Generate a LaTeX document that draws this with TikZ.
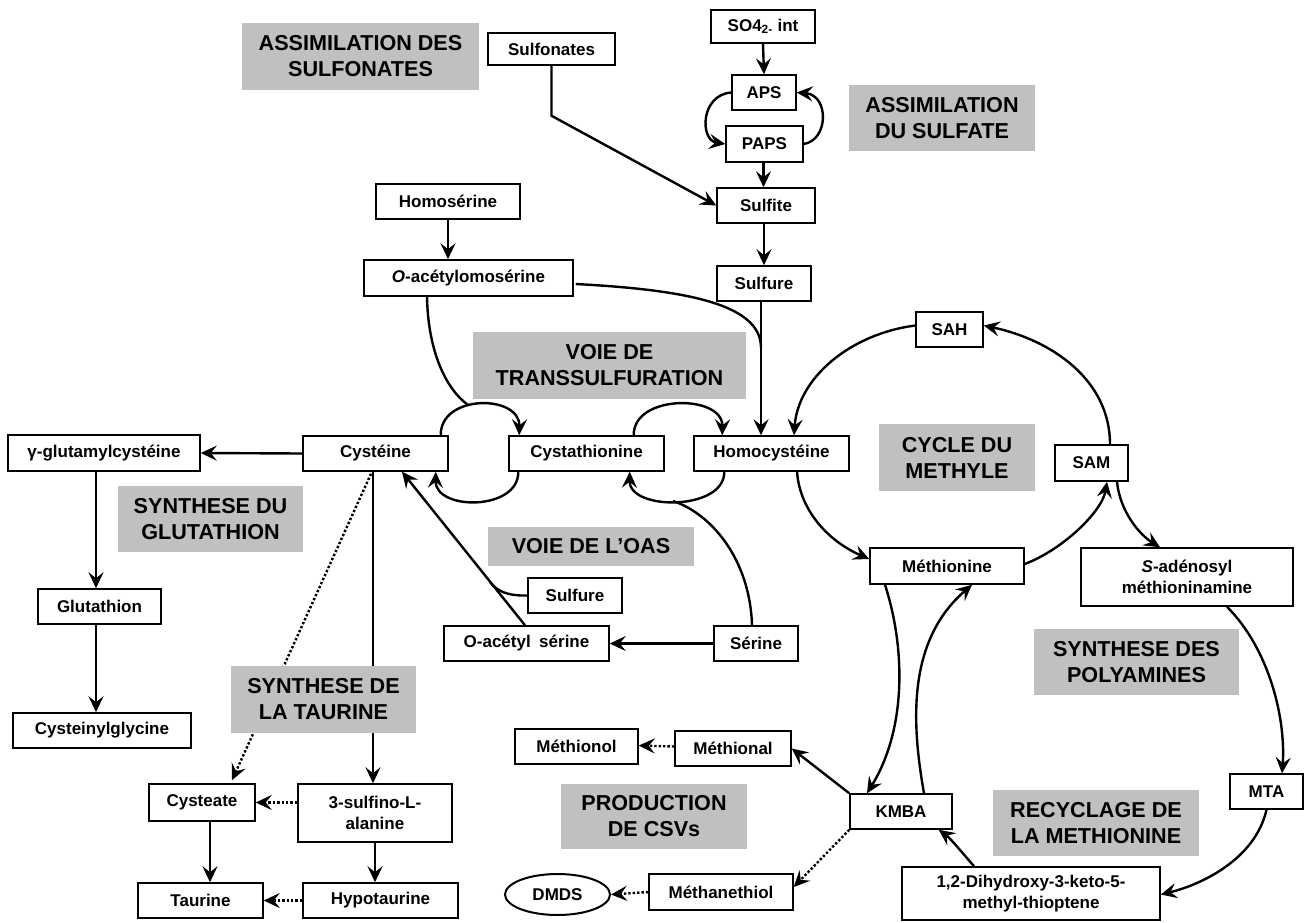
\documentclass[tikz,border=0pt]{standalone}
\usepackage{fontspec}
\setmainfont{Liberation Sans}
\usetikzlibrary{arrows.meta,calc,shapes.geometric}
\definecolor{labgray}{RGB}{192,192,192}
\newcommand{\nodefnt}{\fontsize{17}{21}\selectfont\bfseries}
\newcommand{\labfnt}{\fontsize{21.6}{26}\selectfont\bfseries}
\begin{document}
\begin{tikzpicture}[x=1pt,y=-1pt,
  box/.style={draw, line width=1.5pt, inner sep=0pt, font=\nodefnt, align=center},
  lab/.style={fill=labgray, inner sep=0pt, font=\labfnt, align=center},
  ln/.style={line width=2.4pt},
  arr/.style={line width=2.4pt, -{Stealth[length=16pt,width=15pt,inset=6pt]}},
  dotarr/.style={line width=2.4pt, dash pattern=on 2.4pt off 2pt, -{Stealth[length=16pt,width=15pt,inset=6pt,sep=0pt]}},
  dotln/.style={line width=2.4pt, dash pattern=on 2.4pt off 2pt}]
\useasboundingbox (0,0) rectangle (1310,922);

% ---------- boxes ----------
\node[box, minimum width=127, minimum height=32] (sulfonates) at (551.5,49) {Sulfonates};
\node[box, minimum width=104, minimum height=33] (so4) at (763,26.5) {SO4\textsubscript{2-} int};
\node[box, minimum width=64, minimum height=35] (aps) at (764,92.5) {APS};
\node[box, minimum width=77, minimum height=36] (paps) at (764.5,144) {PAPS};
\node[box, minimum width=98, minimum height=35] (sulfite) at (766,205.5) {Sulfite};
\node[box, minimum width=144, minimum height=35] (homoserine) at (448,201.5) {Homosérine};
\node[box, minimum width=209, minimum height=36] (oah) at (468.5,278) {\textit{O}-acétylomosérine};
\node[box, minimum width=94, minimum height=35] (sulfureA) at (764,283.5) {Sulfure};
\node[box, minimum width=145, minimum height=35] (cysteine) at (375.5,453.5) {Cystéine};
\node[box, minimum width=155, minimum height=35] (cystathionine) at (586.5,453.5) {Cystathionine};
\node[box, minimum width=155, minimum height=35] (homocysteine) at (771.5,453.5) {Homocystéine};
\node[box, minimum width=192, minimum height=36] (gglu) at (104,453) {γ-glutamylcystéine};
\node[box, minimum width=123, minimum height=35] (glutathion) at (99.5,606.5) {Glutathion};
\node[box, minimum width=178, minimum height=35] (cysgly) at (102,730.5) {Cysteinylglycine};
\node[box, minimum width=94, minimum height=35] (sulfureB) at (575,595.5) {Sulfure};
\node[box, minimum width=165, minimum height=35] (oas) at (526.5,643.5) {O-acétyl\hspace{0.5em}sérine};
\node[box, minimum width=84, minimum height=35] (serine) at (756,643.5) {Sérine};
\node[box, minimum width=67, minimum height=35] (sah) at (949.5,329.5) {SAH};
\node[box, minimum width=73, minimum height=36] (sam) at (1091.5,463) {SAM};
\node[box, minimum width=154, minimum height=36] (methionine) at (947,566) {Méthionine};
\node[box, minimum width=212, minimum height=58] (sadomet) at (1187,577) {\textit{S}-adénosyl\\méthioninamine};
\node[box, minimum width=102, minimum height=35] (kmba) at (901,811.5) {KMBA};
\node[box, minimum width=73, minimum height=35] (mta) at (1266.5,791.5) {MTA};
\node[box, minimum width=258, minimum height=53] (dihydroxy) at (1031,893.5) {1,2-Dihydroxy-3-keto-5-\\methyl-thioptene};
\node[box, minimum width=123, minimum height=35] (methionol) at (576.5,746.5) {Méthionol};
\node[box, minimum width=116, minimum height=35] (methional) at (733,748.5) {Méthional};
\node[box, ellipse, line width=2pt, minimum width=105, minimum height=41] (dmds) at (557.5,894.5) {DMDS};
\node[box, minimum width=144, minimum height=36] (methanethiol) at (721,892) {Méthanethiol};
\node[box, minimum width=106, minimum height=37] (cysteate) at (202,802.5) {Cysteate};
\node[box, minimum width=154, minimum height=58] (sulfino) at (375,813) {3-sulfino-L-\\alanine};
\node[box, minimum width=125, minimum height=35] (taurine) at (200.5,900.5) {Taurine};
\node[box, minimum width=155, minimum height=35] (hypotaurine) at (380.5,900.5) {Hypotaurine};

% ---------- connectors ----------
% sulfate assimilation
\draw[arr] (so4.south) -- (aps.north);
\draw[arr] (aps.west) .. controls (700,95) and (700,140) .. (paps.west);
\draw[arr] (paps.east) .. controls (829,140) and (829,95) .. (aps.east);
\draw[arr] ($(paps.south)+(-1,0)$) -- ($(sulfite.north)+(-2.5,0)$);
\draw[arr] (sulfonates.south) -- ++(0,50) -- (sulfite.west);
\draw[arr] ($(sulfite.south)+(-2,0)$) -- (sulfureA.north);
\draw[arr] ($(sulfureA.south)+(-3,0)$) -- ($(homocysteine.north)+(-10.5,0)$);
\draw[ln] ($(oah.east)+(2,6)$) .. controls (690,290) and (761,305) .. ($(sulfureA.south)+(-3,46)$);
% homoserine
\draw[arr] (homoserine.south) -- (homoserine.south |- oah.north);
\draw[ln] ($(oah.south)+(-41.5,0)$) .. controls (428,350) and (445,388) .. (468,405);
% transsulfuration
\draw[arr] ($(cysteine.north east)+(-8,0)$) .. controls (440,394) and (520,394) .. ($(cystathionine.north west)+(11,0)$);
\draw[arr] ($(cystathionine.south west)+(10,0)$) .. controls (519,511) and (435,511) .. ($(cysteine.south east)+(-13,0)$);
\draw[arr] ($(cystathionine.north east)+(-31,0)$) .. controls (633,394) and (723,394) .. ($(homocysteine.north west)+(29,0)$);
\draw[arr] ($(homocysteine.south west)+(31,0)$) .. controls (725,511) and (629,511) .. ($(cystathionine.south east)+(-35,0)$);
% OAS pathway
\draw[ln] ($(serine.north)+(-4,0)$) .. controls (750,560) and (712,514) .. (673,501);
\draw[arr] (serine.west) -- (oas.east);
\draw[arr] ($(oas.north)+(-1.5,0)$) -- ($(cysteine.south)+(26.5,0)$);
\draw[ln] (sulfureB.west) .. controls (507,596) and (497,591) .. (490,582);
% glutathion
\draw[arr] (cysteine.west) -- (gglu.east);
\draw[arr] ($(gglu.south)+(-8,0)$) -- ($(glutathion.north)+(-3.5,0)$);
\draw[arr] ($(glutathion.south)+(-3.5,0)$) -- ($(cysgly.north)+(-6,0)$);
% taurine
\draw[arr] ($(cysteine.south)+(-2.5,0)$) -- ($(sulfino.north)+(-2,0)$);
\draw[dotarr] ($(cysteine.south)+(-4.5,2)$) -- ($(cysteate.north)+(30,-3)$);
\draw[dotarr] (sulfino.west |- cysteate.east) -- (cysteate.east);
\draw[arr] ($(cysteate.south)+(8,0)$) -- ($(taurine.north)+(9.5,0)$);
\draw[arr] (sulfino.south) -- ($(hypotaurine.north)+(-5.5,0)$);
\draw[dotarr] (hypotaurine.west) -- (taurine.east);
% methyl cycle
\draw[arr] ($(sah.west)+(0,-4)$) .. controls (850,334) and (798,378) .. ($(homocysteine.north)+(22.5,0)$);
\draw[arr] ($(sam.north)+(18.5,0)$) .. controls (1110,380) and (1052,340) .. ($(sah.east)+(0,-4)$);
\draw[arr] ($(methionine.east)+(0,-2)$) .. controls (1062,550) and (1102,512) .. ($(sam.south)+(15.5,0)$);
\draw[arr] ($(sam.south)+(25.5,0)$) .. controls (1120,512) and (1140,535) .. ($(sadomet.north)+(-27,0)$);
\draw[arr] ($(homocysteine.south)+(25.5,0)$) .. controls (800,512) and (830,542) .. ($(methionine.west)+(0,-7)$);
% methionine recycling
\draw[arr] ($(methionine.south)+(-62,0)$) .. controls (906,650) and (906,730) .. ($(kmba.north)+(-34,0)$);
\draw[arr] ($(kmba.north)+(23,0)$) .. controls (911,720) and (908,640) .. ($(methionine.south)+(25,0)$);
\draw[arr] ($(sadomet.south)+(40,0)$) .. controls (1270,650) and (1286,720) .. ($(mta.north)+(15.5,0)$);
\draw[arr] (mta.south) .. controls (1255,860) and (1200,885) .. ($(dihydroxy.east)+(0,1)$);
\draw[arr] ($(dihydroxy.north)+(-57,0)$) .. controls (960,850) and (950,838) .. ($(kmba.south east)+(-14,0)$);
% CSVs
\draw[arr] (kmba.north west) -- (methional.east);
\draw[dotarr] (kmba.south west) -- ($(methanethiol.east)+(0,-5)$);
\draw[dotarr] ($(methional.west)+(0,-2)$) -- ($(methionol.east)+(0,-1)$);
\draw[dotarr] (methanethiol.west) -- (dmds.east);

% ---------- gray labels (drawn over lines) ----------
\node[lab, minimum width=237, minimum height=67] (g1) at (360.5,56.5) {ASSIMILATION DES\\SULFONATES};
\node[lab, minimum width=186, minimum height=66] (g2) at (942,118) {ASSIMILATION\\DU SULFATE};
\node[lab, minimum width=273, minimum height=67] (g3) at (609.5,365.5) {VOIE DE\\TRANSSULFURATION};
\node[lab, minimum width=185, minimum height=66] (g4) at (210.5,519) {SYNTHESE DU\\GLUTATHION};
\node[lab, minimum width=206, minimum height=39] (g5) at (591,546.5) {VOIE DE L’OAS};
\node[lab, minimum width=156, minimum height=67] (g6) at (957,457.5) {CYCLE DU\\METHYLE};
\node[lab, minimum width=185, minimum height=67] (g7) at (323.5,699.5) {SYNTHESE DE\\LA TAURINE};
\node[lab, minimum width=205, minimum height=66] (g8) at (1136.5,662) {SYNTHESE DES\\POLYAMINES};
\node[lab, minimum width=186, minimum height=65] (g9) at (654,816.5) {PRODUCTION\\DE CSVs};
\node[lab, minimum width=206, minimum height=66] (g10) at (1096,823) {RECYCLAGE DE\\LA METHIONINE};
\end{tikzpicture}
\end{document}
